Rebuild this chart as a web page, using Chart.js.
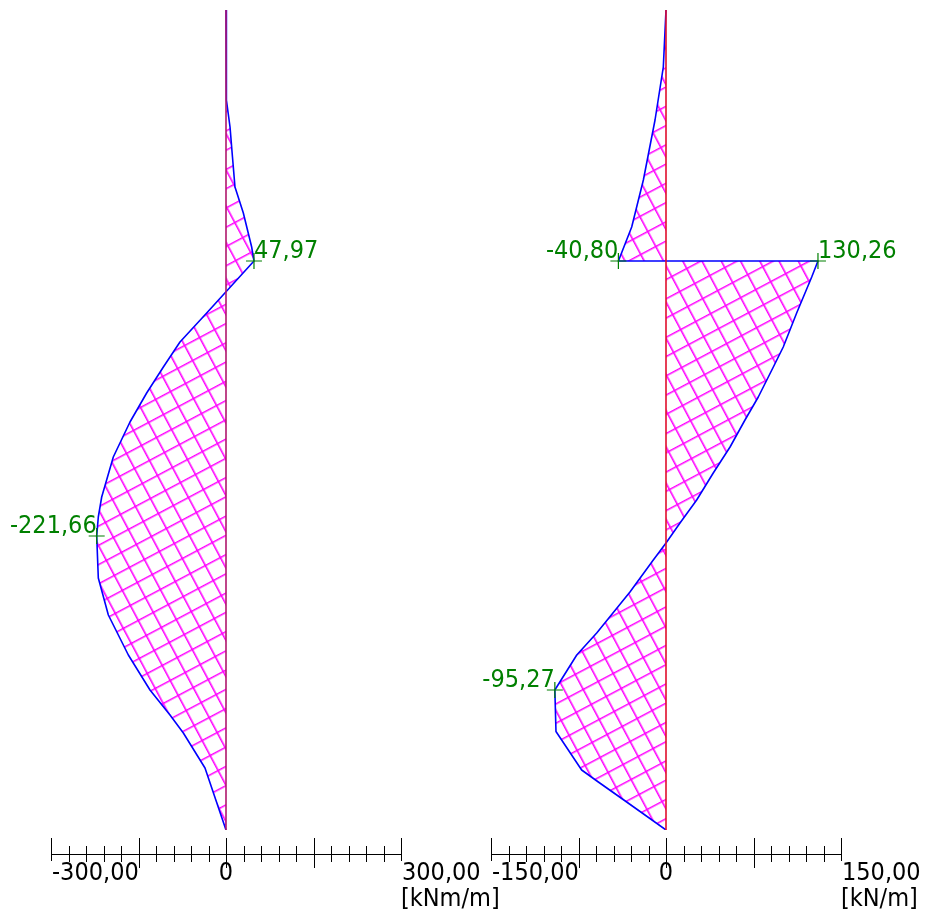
<!DOCTYPE html>
<html>
<head>
<meta charset="utf-8">
<script src="https://cdn.jsdelivr.net/npm/chart.js@4.4.1/dist/chart.umd.min.js"></script>
<style>
  html, body { margin: 0; padding: 0; background: #fff; }
  #wrap { position: relative; width: 933px; height: 913px; }
  canvas { position: absolute; top: 0; }
</style>
</head>
<body>
<div id="wrap">
  <canvas id="moment" width="500" height="913" style="left:0"></canvas>
  <canvas id="shear" width="467" height="913" style="left:466px"></canvas>
</div>
<script>
const wallDepth = 16.4; // m, top to toe

// bending moment [kNm/m] against depth [m]
const momentDepth = [0, 1.0, 1.8, 2.34, 2.94, 3.54, 4.06, 4.74, 5.02, 6.06, 6.64, 7.14, 7.66, 8.24, 8.94, 9.74, 10.14, 10.52, 11.36, 12.1, 12.9, 13.6, 14.1, 14.46, 15.16, 16.4];
const momentValues = [0, 0.2, 1.2, 6.9, 11.1, 15.4, 29.7, 44, 47.97, -33.1, -78.9, -107.4, -136, -164.6, -193.2, -213.1, -218.9, -221.66, -218.9, -201.7, -167.4, -130.3, -96, -73.1, -36, 0];
const momentPeakDepth = [5.02, 10.52];
const momentPeakValue = [47.97, -221.66];
const momentPeakText = ['47,97', '-221,66'];
const momentTickLabels = ['-300,00', '0', '300,00'];

// shear force [kN/m] against depth [m]
const shearDepth = [0, 1.14, 2.2, 3.4, 4.34, 5.02, 5.02, 5.34, 6.06, 6.74, 7.14, 7.74, 8.2, 8.74, 9.26, 9.8, 10.26, 10.66, 11.0, 11.64, 12.46, 12.9, 13.6, 14.43, 15.2, 15.44, 15.84, 16.4];
const shearValues = [0, -2.3, -9.4, -19.4, -29.4, -40.8, 130.26, 124.9, 112, 100.5, 92, 79.1, 67.7, 54.9, 40.5, 26.3, 12, 0, -10.9, -30.9, -59.4, -76.5, -95.27, -94.3, -72.3, -58, -33.7, 0];
const shearPeakDepth = [5.02, 5.02, 13.6];
const shearPeakValue = [-40.8, 130.26, -95.27];
const shearPeakText = ['-40,80', '130,26', '-95,27'];
const shearTickLabels = ['-150,00', '0', '150,00'];

const FONT = '25px "DejaVu Sans Condensed", "Liberation Sans", Arial, sans-serif';

function hatch() {
  const s = 17;
  const c = document.createElement('canvas');
  c.width = s; c.height = s;
  const g = c.getContext('2d');
  g.strokeStyle = '#ff00ff';
  g.lineWidth = 1.6;
  g.beginPath();
  g.moveTo(0, 0.8); g.lineTo(s, 0.8);
  g.moveTo(0.8, 0); g.lineTo(0.8, s);
  g.stroke();
  const p = g.createPattern(c, 'repeat');
  p.setTransform(new DOMMatrix().rotateSelf(-28));
  return p;
}

function annotate(range, tickLabels, unit, peakDepth, peakValue, peakText, side) {
  return {
    id: 'annotate',
    afterDatasetsDraw(chart) {
      const ctx = chart.ctx, xs = chart.scales.x, ys = chart.scales.y;
      const axisY = ys.bottom + 24;
      ctx.save();
      // peak values
      ctx.font = FONT;
      ctx.fillStyle = '#008000';
      ctx.textBaseline = 'alphabetic';
      peakText.forEach((t, i) => {
        const px = xs.getPixelForValue(peakValue[i]);
        const py = ys.getPixelForValue(peakDepth[i]);
        ctx.textAlign = side[i] === 'r' ? 'left' : 'right';
        ctx.fillText(t, px, py - 3);
      });
      // value axis
      ctx.strokeStyle = '#000';
      ctx.lineWidth = 1;
      ctx.beginPath();
      ctx.moveTo(xs.left, axisY + 0.5);
      ctx.lineTo(xs.right + 1, axisY + 0.5);
      const n = 20;
      for (let i = 0; i <= n; i++) {
        const v = -range + i * 2 * range / n;
        const x = Math.round(xs.getPixelForValue(v)) + 0.5;
        const major = i % 5 === 0;
        ctx.moveTo(x, axisY - (major ? 16 : 8));
        ctx.lineTo(x, axisY + (major ? (i === 0 || i === n ? 7 : 14) : 8));
      }
      ctx.stroke();
      ctx.fillStyle = '#000';
      const lx = [-range, 0, range];
      tickLabels.forEach((t, i) => {
        const x = xs.getPixelForValue(lx[i]);
        ctx.textAlign = i === 1 ? 'center' : 'left';
        ctx.fillText(t, i === 1 ? x : x + 1, axisY + 26);
      });
      ctx.textAlign = 'left';
      ctx.fillText(unit, xs.getPixelForValue(range), axisY + 52);
      ctx.restore();
    }
  };
}

function diagram(id, range, padRight, padLeft, depth, values, zeroColor, plugin, peakDepth, peakValue) {
  const pts = depth.map((d, i) => ({ x: values[i], y: d }));
  const peaks = peakDepth.map((d, i) => ({ x: peakValue[i], y: d }));
  return new Chart(document.getElementById(id).getContext('2d'), {
    type: 'line',
    data: {
      datasets: [
        {
          data: [{ x: 0, y: 0 }, { x: 0, y: wallDepth }],
          borderColor: zeroColor,
          borderWidth: 1.6,
          pointRadius: 0,
          fill: false
        },
        {
          data: peaks,
          showLine: false,
          pointStyle: 'cross',
          pointRadius: 8,
          pointBorderColor: '#008000',
          pointBorderWidth: 1.2
        },
        {
          data: pts,
          borderColor: '#0000ff',
          borderWidth: 1.6,
          backgroundColor: hatch(),
          fill: 'origin',
          pointRadius: 0,
          tension: 0
        }
      ]
    },
    options: {
      indexAxis: 'y',
      responsive: false,
      animation: false,
      events: [],
      devicePixelRatio: 1,
      layout: { padding: { left: padLeft, right: padRight, top: 10, bottom: 83 } },
      plugins: {
        legend: { display: false },
        tooltip: { enabled: false },
        title: { display: false }
      },
      scales: {
        x: { type: 'linear', min: -range, max: range, display: false },
        y: { type: 'linear', min: 0, max: wallDepth, reverse: true, display: false }
      },
      elements: { line: { borderJoinStyle: 'round' } }
    },
    plugins: [plugin]
  });
}

diagram('moment', 300, 99, 51, momentDepth, momentValues, '#b0186c',
  annotate(300, momentTickLabels, '[kNm/m]', momentPeakDepth, momentPeakValue, momentPeakText, ['r', 'l']),
  momentPeakDepth, momentPeakValue);

diagram('shear', 150, 92, 25, shearDepth, shearValues, '#e0102c',
  annotate(150, shearTickLabels, '[kN/m]', shearPeakDepth, shearPeakValue, shearPeakText, ['l', 'r', 'l']),
  shearPeakDepth, shearPeakValue);
</script>
</body>
</html>
